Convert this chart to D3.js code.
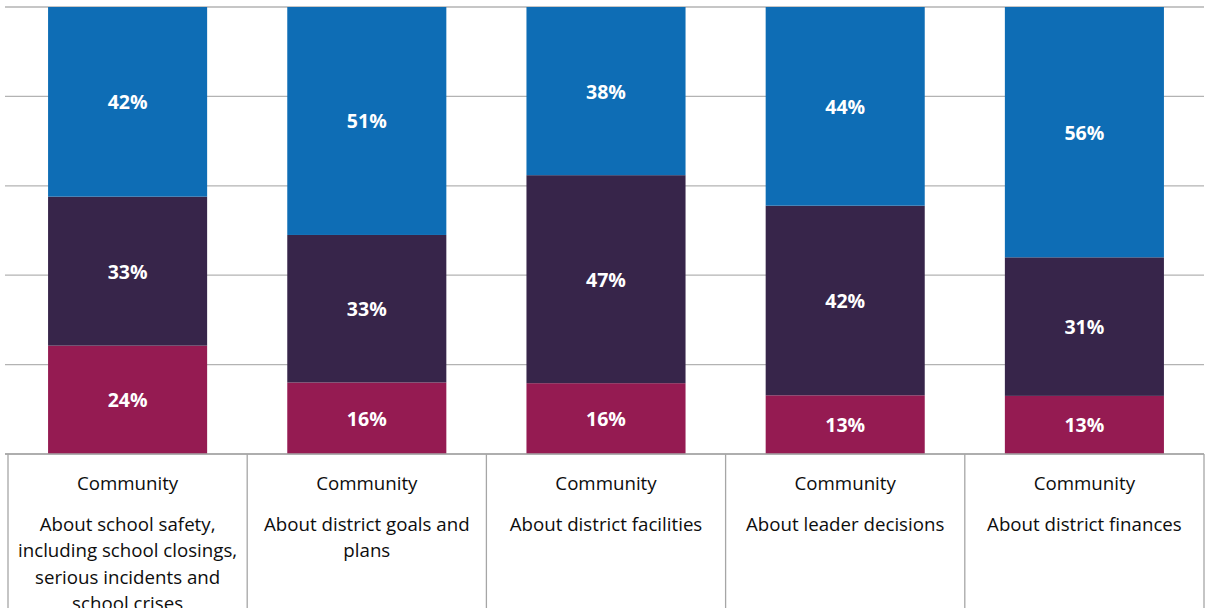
<!DOCTYPE html>
<html>
<head>
<meta charset="utf-8">
<script src="https://cdn.jsdelivr.net/npm/d3@7/dist/d3.min.js"></script>
<style>
  html, body { margin: 0; padding: 0; background: #fff; }
  svg { display: block; }
  text { font-family: "Open Sans", "Noto Sans", sans-serif; }
</style>
</head>
<body>
<svg id="chart" width="1207" height="608"></svg>
<script>
// Categories (axis table rows)
const groups = ["Community", "Community", "Community", "Community", "Community"];
const topics = [
  ["About school safety,", "including school closings,", "serious incidents and", "school crises"],
  ["About district goals and", "plans"],
  ["About district facilities"],
  ["About leader decisions"],
  ["About district finances"]
];
const keys = ["c0", "c1", "c2", "c3", "c4"];

// Series values (percent), stacked bottom to top
const bottomSeries = [24, 16, 16, 13, 13];
const middleSeries = [33, 33, 47, 42, 31];
const topSeries    = [42, 51, 38, 44, 56];

const seriesNames = ["bottom", "middle", "top"];
const seriesColors = ["#951b52", "#37254a", "#0e6db5"];
const yTicks = [0, 0.2, 0.4, 0.6, 0.8, 1];

const svg = d3.select("#chart");
const W = 1207, H = 608;
const plotLeft = 8, plotRight = 1204, plotTop = 7, plotBottom = 454;

const rows = keys.map((k, i) => ({
  key: k,
  bottom: bottomSeries[i],
  middle: middleSeries[i],
  top: topSeries[i]
}));

const x = d3.scaleBand()
  .domain(keys)
  .range([plotLeft, plotRight])
  .paddingInner(0.335)
  .paddingOuter(0.1675);

const y = d3.scaleLinear().domain([0, 1]).range([plotBottom, plotTop]);

// Gridlines
svg.append("g")
  .selectAll("line")
  .data(yTicks)
  .join("line")
  .attr("x1", plotLeft - 3)
  .attr("x2", plotRight)
  .attr("y1", d => y(d))
  .attr("y2", d => y(d))
  .attr("stroke", "#b3b3b3")
  .attr("stroke-width", 1.3);

// 100% stacked bars
const stack = d3.stack().keys(seriesNames).offset(d3.stackOffsetExpand);
const layers = stack(rows);

const layerG = svg.append("g")
  .selectAll("g")
  .data(layers)
  .join("g")
  .attr("fill", (d, i) => seriesColors[i]);

layerG.selectAll("rect")
  .data(d => d.map(s => ({ s, key: d.key })))
  .join("rect")
  .attr("x", d => x(d.s.data.key))
  .attr("width", x.bandwidth())
  .attr("y", d => y(d.s[1]))
  .attr("height", d => y(d.s[0]) - y(d.s[1]));

// Value labels
layerG.selectAll("text")
  .data(d => d.map(s => ({ s, key: d.key })))
  .join("text")
  .attr("x", d => x(d.s.data.key) + x.bandwidth() / 2)
  .attr("y", d => (y(d.s[0]) + y(d.s[1])) / 2)
  .attr("text-anchor", "middle")
  .attr("dominant-baseline", "central")
  .attr("fill", "#ffffff")
  .attr("font-weight", "bold")
  .attr("font-size", 19.5)
  .text(d => d.s.data[d.key] + "%");

// Category axis as a table
const axisG = svg.append("g");
axisG.append("line")
  .attr("x1", plotLeft - 3).attr("x2", plotRight)
  .attr("y1", plotBottom).attr("y2", plotBottom)
  .attr("stroke", "#a6a6a6").attr("stroke-width", 1.3);

const step = x.step();
const bounds = d3.range(keys.length + 1).map(i => plotLeft + i * step);
axisG.selectAll("line.sep")
  .data(bounds)
  .join("line")
  .attr("class", "sep")
  .attr("x1", d => d).attr("x2", d => d)
  .attr("y1", plotBottom).attr("y2", H)
  .attr("stroke", "#a6a6a6").attr("stroke-width", 1.3);

const cells = axisG.selectAll("g.cell")
  .data(keys)
  .join("g")
  .attr("class", "cell")
  .attr("transform", d => `translate(${x(d) + x.bandwidth() / 2},0)`);

cells.append("text")
  .attr("y", 482)
  .attr("text-anchor", "middle")
  .attr("dominant-baseline", "central")
  .attr("fill", "#0d0d0d")
  .attr("font-size", 18.7)
  .text((d, i) => groups[i]);

cells.each(function(d, i) {
  d3.select(this).selectAll("text.topic")
    .data(topics[i])
    .join("text")
    .attr("class", "topic")
    .attr("y", (t, j) => 523 + j * 26.5)
    .attr("text-anchor", "middle")
    .attr("dominant-baseline", "central")
    .attr("fill", "#0d0d0d")
    .attr("font-size", 18.7)
    .text(t => t);
});
</script>
</body>
</html>
